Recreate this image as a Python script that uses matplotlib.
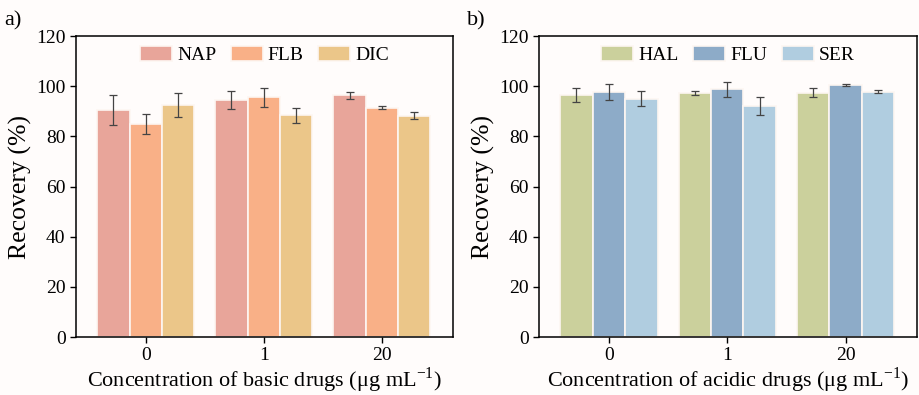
import matplotlib
matplotlib.use("Agg")
import matplotlib.pyplot as plt
import numpy as np

plt.rcParams["font.family"] = "Liberation Serif"
plt.rcParams["mathtext.fontset"] = "custom"
plt.rcParams["mathtext.rm"] = "Liberation Serif"

# 浓度分组
groups = ["0", "1", "20"]

# 碱性药物回收率
basic_names = ["NAP", "FLB", "DIC"]
basic_vals = [[90.4, 94.5, 96.3], [85.0, 95.5, 91.5], [92.5, 88.5, 88.3]]
basic_err = [[6.0, 3.6, 1.4], [4.0, 3.6, 0.6], [4.6, 3.0, 1.5]]
basic_colors = ["#e8a59a", "#f9b087", "#ebc689"]

# 酸性药物回收率
acid_names = ["HAL", "FLU", "SER"]
acid_vals = [[96.5, 97.2, 97.4], [97.5, 98.8, 100.4], [95.0, 92.2, 97.8]]
acid_err = [[2.8, 0.8, 1.7], [3.2, 3.0, 0.3], [3.0, 3.5, 0.7]]
acid_colors = ["#cbd09c", "#8dabc8", "#b0cde0"]


def draw_panel(ax, names, vals, errs, colors, xlabel, tag):
    x = np.arange(len(groups))
    w = 0.274
    for i in range(3):
        ax.bar(x + (i - 1) * w, vals[i], width=w, color=colors[i],
               edgecolor="#fdf6f2", linewidth=1.2, label=names[i],
               yerr=errs[i], capsize=3,
               error_kw=dict(ecolor="#444444", elinewidth=0.9, capthick=0.9))
    ax.set_ylim(0, 120)
    ax.set_yticks(range(0, 121, 20))
    ax.set_xticks(x)
    ax.set_xticklabels(groups)
    ax.set_xlim(-0.59, 2.6)
    ax.set_ylabel("Recovery (%)", fontsize=18.5, labelpad=3)
    ax.set_xlabel(xlabel, fontsize=16, labelpad=1)
    ax.tick_params(labelsize=14, direction="out", length=4, width=1)
    for s in ax.spines.values():
        s.set_linewidth(1.1)
    ax.set_facecolor("#fffcfb")
    ax.legend(loc="upper center", ncol=3, frameon=False, fontsize=14,
              handlelength=1.65, handleheight=0.8, columnspacing=0.75,
              handletextpad=0.25, bbox_to_anchor=(0.5, 1.025))
    ax.text(-0.19, 1.035, tag, transform=ax.transAxes, fontsize=16)


fig = plt.figure(figsize=(9.19, 3.95), dpi=100, facecolor="#fffcfb")
ax1 = fig.add_axes([0.0827, 0.1468, 0.410, 0.762])
ax2 = fig.add_axes([0.5865, 0.1468, 0.411, 0.762])

draw_panel(ax1, basic_names, basic_vals, basic_err, basic_colors,
           "Concentration of basic drugs (μg mL$^{-1}$)", "a)")
draw_panel(ax2, acid_names, acid_vals, acid_err, acid_colors,
           "Concentration of acidic drugs (μg mL$^{-1}$)", "b)")

fig.savefig("out.png", dpi=100, facecolor=fig.get_facecolor())
